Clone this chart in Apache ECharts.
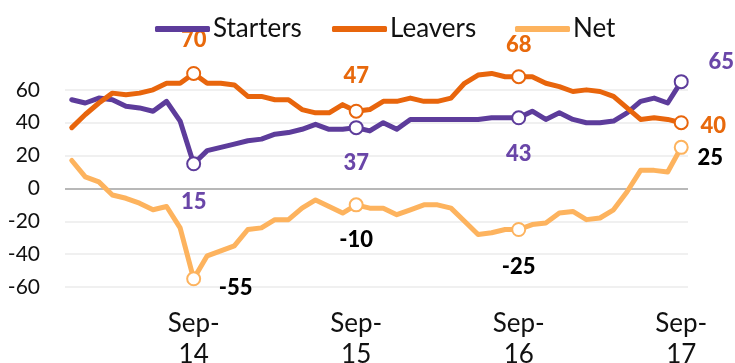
<!DOCTYPE html>
<html><head><meta charset="utf-8">
<script src="https://cdn.jsdelivr.net/npm/echarts@6/dist/echarts.min.js"></script>
<style>html,body{margin:0;padding:0;background:#fff}#c{width:735px;height:363px}</style>
</head><body><div id="c"></div>
<script>
const categories = ['Dec-13',
  'Jan-14','Feb-14','Mar-14','Apr-14','May-14','Jun-14','Jul-14','Aug-14','Sep-14','Oct-14','Nov-14','Dec-14',
  'Jan-15','Feb-15','Mar-15','Apr-15','May-15','Jun-15','Jul-15','Aug-15','Sep-15','Oct-15','Nov-15','Dec-15',
  'Jan-16','Feb-16','Mar-16','Apr-16','May-16','Jun-16','Jul-16','Aug-16','Sep-16','Oct-16','Nov-16','Dec-16',
  'Jan-17','Feb-17','Mar-17','Apr-17','May-17','Jun-17','Jul-17','Aug-17','Sep-17'];
const starters = [54,52,55,54,50,49,47,53,41,15,23,25,27,29,30,33,34,36,39,36,36,37,35,40,36,42,42,42,42,42,42,43,43,43,47,42,46,42,40,40,41,46,53,55,52,65];
const leavers  = [37,45,52,58,57,58,60,64,64,70,64,64,63,56,56,54,54,48,46,46,51,47,48,53,53,55,53,53,55,64,69,70,68,68,68,64,62,59,60,59,56,49,42,43,42,40];
const net      = [17,7,4,-4,-6,-9,-13,-11,-24,-55,-41,-38,-35,-25,-24,-19,-19,-12,-7,-11,-15,-10,-12,-12,-16,-13,-10,-10,-12,-20,-28,-27,-25,-25,-22,-21,-15,-14,-19,-18,-13,-2,11,11,10,25];
const seriesNames = ['Starters','Leavers','Net'];
const markedIdx = [9,21,33,45];

const C_START = '#5d3c9b', C_LEAVE = '#e8650c', C_NET = '#fdb35e';
const FONT = 'Lato';
const offS = [[0,38],[0,35],[0,36],[40,-20]];
const offL = [[0,-34],[0,-35],[0,-32],[32,3]];
const offN = [[42,9],[0,35],[0,37],[29,11]];
const legendLeft = [150, 327, 510];

function build(values, color, labelColor, offsets){
  return values.map((v,i)=>{
    const k = markedIdx.indexOf(i);
    if(k<0) return {value:v, symbol:'none'};
    return {value:v, symbol:'circle', symbolSize:13,
      itemStyle:{color:'#fff', borderColor:color, borderWidth:2},
      label:{show:true, position:'inside', offset:offsets[k], color:labelColor,
        fontWeight:900, fontSize:22, fontFamily:FONT}};
  });
}
function mkSeries(name, values, color, labelColor, offsets){
  return {name, type:'line', color, data:build(values,color,labelColor,offsets),
    showAllSymbol:true, symbol:'none', clip:false,
    lineStyle:{width:5, color, cap:'round', join:'round'},
    emphasis:{disabled:true}, animation:false, z:2};
}
const chart = echarts.init(document.getElementById('c'));
chart.setOption({
  animation:false,
  legend: seriesNames.map((n,k)=>({top:11, left:legendLeft[k], itemWidth:55, itemHeight:6, icon:'roundRect',
    textStyle:{fontFamily:FONT, fontSize:26, color:'#111', padding:[0,0,0,-2]},
    data:[n]})),
  grid:{left:65, right:47, top:57, bottom:76, outerBoundsMode:'none', containLabel:false},
  xAxis:{type:'category', data:categories, boundaryGap:true,
    axisLine:{show:false}, axisTick:{show:false}, splitLine:{show:false},
    axisLabel:{interval:(i)=>i%12===9, formatter:(v)=>v.replace('-','-\n'),
      fontFamily:FONT, fontSize:26, lineHeight:31, margin:21, color:'#111'}},
  yAxis:{type:'value', min:-60, max:80, interval:20,
    axisLine:{show:false}, axisTick:{show:false},
    axisLabel:{formatter:(v)=>v===80?'':String(v), fontFamily:FONT, fontSize:21, color:'#111', margin:25},
    splitLine:{show:true, showMaxLine:false,
      lineStyle:{width:1.5, color:['#ebebeb','#ebebeb','#ebebeb','#a0a0a0','#ebebeb','#ebebeb','#ebebeb','rgba(0,0,0,0)']}}},
  series:[
    mkSeries(seriesNames[0], starters, C_START, '#6a46a8', offS),
    mkSeries(seriesNames[1], leavers, C_LEAVE, '#e8690c', offL),
    mkSeries(seriesNames[2], net, C_NET, '#000', offN)
  ]
});
</script></body></html>
